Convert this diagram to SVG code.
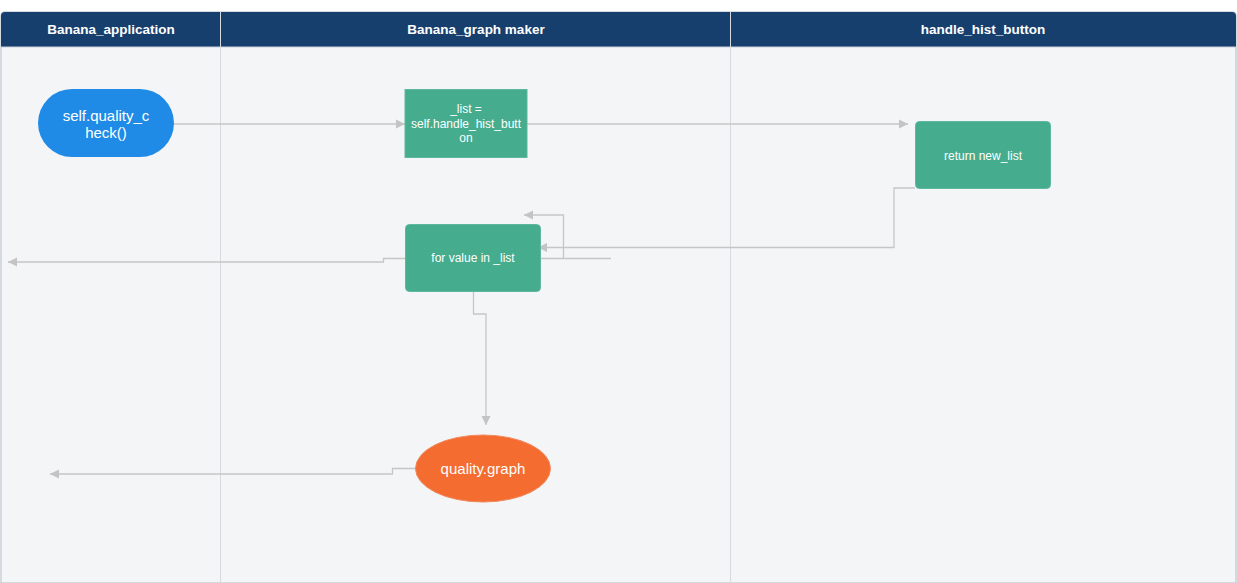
<svg xmlns="http://www.w3.org/2000/svg" width="1237" height="583" viewBox="0 0 1237 583">
<defs>
<marker id="arr" markerWidth="10" markerHeight="10" refX="9" refY="5" orient="auto" markerUnits="userSpaceOnUse">
<path d="M0,0.5 L9,5 L0,9.5 Z" fill="#C4C4C4"/>
</marker>
<style>
.hdr{font-family:"Liberation Sans",Arial,sans-serif;font-size:13.5px;font-weight:bold;fill:#FFFFFF;text-anchor:middle}
.t12{font-family:"Liberation Sans",Arial,sans-serif;font-size:12px;fill:#FFFFFF;text-anchor:middle}
.t15{font-family:"Liberation Sans",Arial,sans-serif;font-size:15px;fill:#FFFFFF;text-anchor:middle}
.conn{fill:none;stroke:#C6C6C6;stroke-width:1.3}
.green{fill:#45AC8E;stroke:#5DB89C;stroke-width:1}
.lane{stroke:#D6D9DD;stroke-width:1}
</style>
</defs>
<rect width="1237" height="583" fill="#FFFFFF"/>
<g id="pool">
<path d="M1,583 L1,16 Q1,12 5,12 L1232,12 Q1236,12 1236,16 L1236,583 Z" fill="#F4F5F7" stroke="#C9D0D8" stroke-width="1.5"/>
<path d="M1,47 L1,16 Q1,12 5,12 L1232,12 Q1236,12 1236,16 L1236,47 Z" fill="#173F6E"/>
<line x1="1" y1="47" x2="1236" y2="47" stroke="#C9D0D8" stroke-width="1"/>
<line class="lane" x1="220.5" y1="12" x2="220.5" y2="583"/>
<line class="lane" x1="730.5" y1="12" x2="730.5" y2="583"/>
<text class="hdr" x="111" y="34">Banana_application</text>
<text class="hdr" x="476" y="34">Banana_graph maker</text>
<text class="hdr" x="983" y="34">handle_hist_button</text>
</g>
<g id="connectors">
<path class="conn" d="M174,124 L405,124" marker-end="url(#arr)"/>
<path class="conn" d="M527,124 L908,124" marker-end="url(#arr)"/>
<path class="conn" d="M915,188 L894,188 L894,247.5 L538,247.5" marker-end="url(#arr)"/>
<path class="conn" d="M541,258.5 L611,258.5"/>
<path class="conn" d="M563.5,258.5 L563.5,215 L524,215" marker-end="url(#arr)"/>
<path class="conn" d="M405,258.5 L383.5,258.5 L383.5,262 L8,262" marker-end="url(#arr)"/>
<path class="conn" d="M473.5,292 L473.5,314 L486,314 L486,425" marker-end="url(#arr)"/>
<path class="conn" d="M416,468.5 L392.5,468.5 L392.5,474 L50,474" marker-end="url(#arr)"/>
</g>
<g id="node-quality-check">
<rect x="38" y="89" width="136" height="68" rx="34" ry="34" fill="#1F8BE6"/>
<text class="t15" x="106" y="121">self.quality_c</text>
<text class="t15" x="106" y="138">heck()</text>
</g>
<g id="node-list">
<rect class="green" x="405" y="89.5" width="122" height="68"/>
<text class="t12" x="466" y="113">_list =</text>
<text class="t12" x="466" y="127.5">self.handle_hist_butt</text>
<text class="t12" x="466" y="142">on</text>
</g>
<g id="node-return">
<rect class="green" x="915.5" y="121.5" width="135" height="67" rx="4" ry="4"/>
<text class="t12" x="983" y="160">return new_list</text>
</g>
<g id="node-for">
<rect class="green" x="405.5" y="224.5" width="135" height="67" rx="4" ry="4"/>
<text class="t12" x="473" y="262">for value in _list</text>
</g>
<g id="node-graph">
<ellipse cx="483" cy="468.5" rx="67.5" ry="33.5" fill="#F46C30" stroke="#F08A5E" stroke-width="1"/>
<text class="t15" x="483" y="474">quality.graph</text>
</g>
</svg>
